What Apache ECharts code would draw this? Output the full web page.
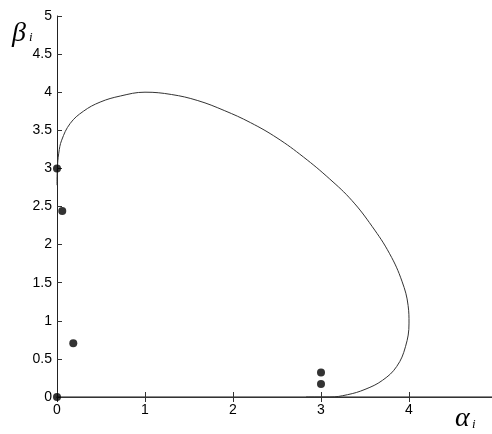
<!DOCTYPE html>
<html><head><meta charset="utf-8">
<script src="https://cdn.jsdelivr.net/npm/echarts@6/dist/echarts.min.js"></script>
<style>html,body{margin:0;padding:0;background:#fff}#c{width:492px;height:434px}</style>
</head><body><div id="c"></div>
<script>
var curveX = [0, 0.004, 0.02, 0.053, 0.15, 0.30, 0.49, 0.72, 1.0, 1.3, 1.6, 1.9, 2.2, 2.5, 2.8, 3.1, 3.35, 3.58, 3.78, 3.92, 3.99, 4.0, 3.96, 3.86, 3.70, 3.50, 3.30, 3.10, 2.83];
var curveY = [2.78, 3.0, 3.2, 3.37, 3.59, 3.75, 3.87, 3.95, 4.0, 3.97, 3.89, 3.76, 3.60, 3.40, 3.15, 2.86, 2.58, 2.24, 1.88, 1.52, 1.20, 0.97, 0.66, 0.40, 0.22, 0.10, 0.03, 0, 0];
var dotX = [0, 0.06, 0.185, 0, 3.0, 3.0];
var dotY = [3.0, 2.44, 0.705, 0, 0.32, 0.17];
var xTicks = [0, 1, 2, 3, 4];
var yTicks = [0, 0.5, 1, 1.5, 2, 2.5, 3, 3.5, 4, 4.5, 5];

var curve = curveX.map(function(x, i){ return [x, curveY[i]]; });
var dots = dotX.map(function(x, i){ return [x, dotY[i]]; });

var chart = echarts.init(document.getElementById('c'));
chart.setOption({
  animation: false,
  grid: {left: 57, top: 16, width: 440, height: 381, outerBoundsMode: 'none', containLabel: false},
  xAxis: [{
    type: 'value', min: 0, max: 5, interval: 1,
    axisLine: {show: true, onZero: false, lineStyle: {color: '#666', width: 1.5}},
    axisTick: {show: true, inside: true, length: 5, lineStyle: {color: '#333'}},
    axisLabel: {color: '#000', fontSize: 14, fontFamily: 'Liberation Sans', margin: 6,
      formatter: function(v){ return xTicks.indexOf(v) >= 0 ? String(v) : ''; }},
    splitLine: {show: false}
  }, {
    type: 'value', position: 'top', min: 0, max: 5, interval: 1,
    axisLine: {show: true, lineStyle: {color: '#333', width: 1}},
    axisTick: {show: true, inside: true, length: 5, lineStyle: {color: '#333'}},
    axisLabel: {show: false}, splitLine: {show: false}
  }],
  yAxis: [{
    type: 'value', min: 0, max: 5, interval: 0.5,
    axisLine: {show: true, onZero: false, lineStyle: {color: '#222', width: 1}},
    axisTick: {show: true, inside: true, length: 5, lineStyle: {color: '#333'}},
    axisLabel: {color: '#000', fontSize: 14, fontFamily: 'Liberation Sans', margin: 5,
      formatter: function(v){ return yTicks.indexOf(v) >= 0 ? String(v) : ''; }},
    splitLine: {show: false}
  }],
  series: [{
    type: 'line', data: curve, smooth: 0.4, showSymbol: false, symbol: 'none',
    lineStyle: {color: '#333', width: 1}, z: 3
  }, {
    type: 'scatter', data: dots, symbol: 'circle', symbolSize: 8,
    itemStyle: {color: '#000'}, z: 4
  }],
  graphic: [
    {type: 'text', left: 12, top: 20, style: {text: 'β', font: 'italic 28px "Liberation Serif"', fill: '#000'}},
    {type: 'text', left: 29, top: 31, style: {text: 'i', font: 'italic 13px "Liberation Serif"', fill: '#000'}},
    {type: 'text', left: 455, top: 405, style: {text: 'α', font: 'italic 28px "Liberation Serif"', fill: '#000'}},
    {type: 'text', left: 472, top: 418, style: {text: 'i', font: 'italic 13px "Liberation Serif"', fill: '#000'}}
  ]
});
</script></body></html>
